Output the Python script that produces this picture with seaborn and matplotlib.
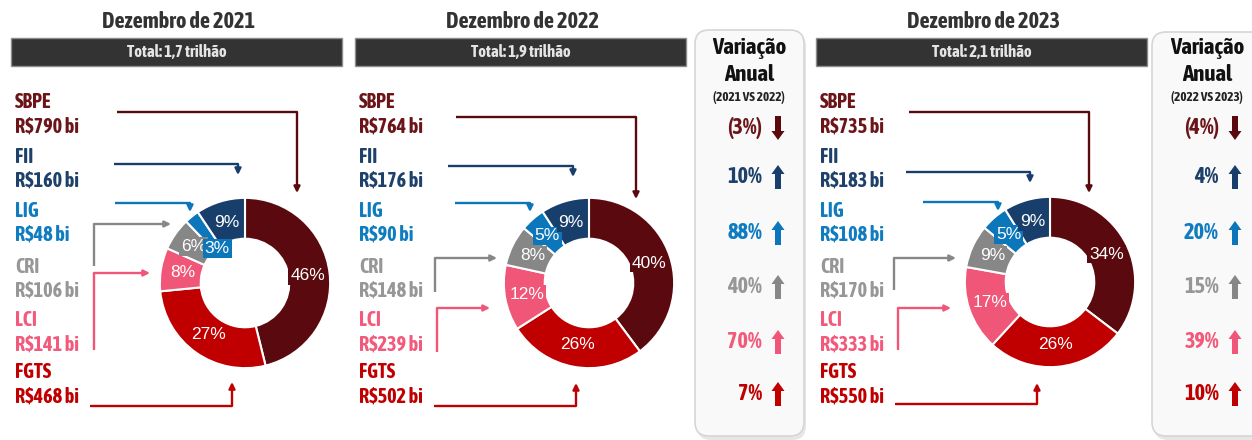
import numpy as np
import matplotlib
matplotlib.use("Agg")
import matplotlib.pyplot as plt
from matplotlib import font_manager as fm
from matplotlib.patches import Rectangle, FancyBboxPatch, FancyArrow
import seaborn as sns

# ---- data ----
categories = ["SBPE", "FII", "LIG", "CRI", "LCI", "FGTS"]
years = ["2021", "2022", "2023"]
totals = ["1,7", "1,9", "2,1"]

stock_2021 = [790, 160, 48, 106, 141, 468]   # R$ bi
stock_2022 = [764, 176, 90, 148, 239, 502]
stock_2023 = [735, 183, 108, 170, 333, 550]

share_2021 = [46, 9, 3, 6, 8, 27]            # % shown in the donut
share_2022 = [40, 9, 5, 8, 12, 26]
share_2023 = [34, 9, 5, 9, 17, 26]

var_2022 = [-3, 10, 88, 40, 70, 7]           # annual change, %
var_2023 = [-4, 4, 20, 15, 39, 10]
var_periods = ["2021 VS 2022", "2022 VS 2023"]

ring_order = ["SBPE", "FGTS", "LCI", "CRI", "LIG", "FII"]

# ---- style ----
sns.set_theme(style="white")


def _weight(f):
    w = f.weight
    return w if isinstance(w, int) else fm.weight_dict.get(w, 400)


def pick_narrow_font():
    # a condensed face that also comes in bold
    faces = fm.fontManager.ttflist
    for f in faces:
        if ("Narrow" in f.name or "Condensed" in f.name) and _weight(f) >= 600:
            return f.name, "normal", 1.0
    for f in faces:
        if f.stretch in ("condensed", "semi-condensed", "extra-condensed") and \
                _weight(f) >= 600:
            return f.name, f.stretch, 1.0
    return "Liberation Sans", "normal", 0.86


NARROW, STRETCH, FS = pick_narrow_font()
plt.rcParams["font.family"] = [NARROW, "Liberation Sans", "DejaVu Sans"]
plt.rcParams["font.stretch"] = STRETCH

wedge_colors = {"SBPE": "#5a0a0e", "FII": "#183f6b", "LIG": "#0b76b9",
                "CRI": "#878787", "LCI": "#ef5677", "FGTS": "#c00000"}
text_colors = {"SBPE": "#6b1519", "FII": "#1e416b", "LIG": "#0f7cc0",
               "CRI": "#979797", "LCI": "#f25a7c", "FGTS": "#c00000"}

W, H = 1252, 440
fig = plt.figure(figsize=(W / 100, H / 100), dpi=100)
bg = fig.add_axes([0, 0, 1, 1])
bg.set_xlim(0, W)
bg.set_ylim(H, 0)
bg.axis("off")

panel_dx = [0, 344, 805]
donut_cy = [283, 283, 282]
R = 86
name_y = [102, 157, 211, 267, 320, 372]
value_y = [126, 181, 235, 291, 344, 396]

connectors = [
    {"SBPE": [(117, 112), (297, 112), (297, 193)],
     "FII": [(114, 164), (238, 164), (238, 175)],
     "LIG": [(115, 203), (190, 203), (190, 212)],
     "CRI": [(94, 266), (94, 224), (171, 224)],
     "LCI": [(94, 350), (94, 273), (150, 273)],
     "FGTS": [(90, 406), (232, 406), (232, 382)]},
    {"SBPE": [(456, 117), (636, 117), (636, 199)],
     "FII": [(448, 166), (573, 166), (573, 177)],
     "LIG": [(455, 203), (530, 203), (530, 212)],
     "CRI": [(435, 292), (435, 258), (497, 258)],
     "LCI": [(437, 352), (437, 308), (490, 308)],
     "FGTS": [(434, 406), (576, 406), (576, 383)]},
    {"SBPE": [(909, 112), (1089, 112), (1089, 193)],
     "FII": [(906, 172), (1030, 172), (1030, 183)],
     "LIG": [(923, 202), (998, 202), (998, 211)],
     "CRI": [(894, 290), (894, 258), (956, 258)],
     "LCI": [(898, 350), (898, 308), (951, 308)],
     "FGTS": [(895, 404), (1037, 404), (1037, 383)]},
]

stocks = [stock_2021, stock_2022, stock_2023]
shares = [share_2021, share_2022, share_2023]

for i, year in enumerate(years):
    dx = panel_dx[i]
    bg.text(178 + dx, 22, f"Dezembro de {year}", ha="center", va="center",
            fontsize=16 * FS, fontweight="bold", color="#333333")
    bg.add_patch(Rectangle((11 + dx, 38), 331, 28, facecolor="#333333",
                           edgecolor="#8c8c8c", lw=1))
    bg.text(177 + dx, 52, f"Total: {totals[i]} trilhão", ha="center", va="center",
            fontsize=12 * FS, fontweight="bold", color="#e4e4e4")

    for k, cat in enumerate(categories):
        bg.text(15 + dx, name_y[k], cat, ha="left", va="center", fontsize=14.5 * FS,
                fontweight="bold", color=text_colors[cat])
        bg.text(15 + dx, value_y[k], f"R${stocks[i][k]} bi", ha="left", va="center",
                fontsize=14.5 * FS, fontweight="bold", color=text_colors[cat])
        pts = connectors[i][cat]
        xs, ys = zip(*pts)
        bg.plot(xs[:-1], ys[:-1], color=wedge_colors[cat], lw=1.7,
                solid_capstyle="butt")
        bg.annotate("", xy=pts[-1], xytext=pts[-2],
                    arrowprops=dict(arrowstyle="-|>", color=wedge_colors[cat], lw=1.7,
                                    mutation_scale=9, shrinkA=0, shrinkB=0))

    # donut
    cx, cy = 245 + dx, donut_cy[i]
    ax = fig.add_axes([(cx - R) / W, 1 - (cy + R) / H, 2 * R / W, 2 * R / H])
    ax.set_zorder(3)
    idx = [categories.index(c) for c in ring_order]
    vals = [stocks[i][j] for j in idx]
    labs = [f"{shares[i][j]}%" for j in idx]
    cols = [wedge_colors[c] for c in ring_order]
    wedges, texts = ax.pie(vals, colors=cols, startangle=90, counterclock=False,
                           radius=1, labels=labs, labeldistance=0.74,
                           wedgeprops=dict(width=0.48, edgecolor="white", linewidth=1.5))
    ax.set_xlim(-1.01, 1.01)
    ax.set_ylim(-1.01, 1.01)
    ax.set_aspect("equal")
    for w, t, c, j in zip(wedges, texts, ring_order, idx):
        t.set_ha("center")
        t.set_va("center")
        t.set_color("white")
        t.set_fontsize(12.5)
        t.set_fontfamily(["Liberation Sans", "DejaVu Sans"])
        t.set_fontstretch("normal")
        t.set_bbox(dict(boxstyle="square,pad=0.1", facecolor=wedge_colors[c],
                        edgecolor="none"))
        if shares[i][j] < 4:
            ang = np.deg2rad((w.theta1 + w.theta2) / 2)
            t.set_position((0.52 * np.cos(ang), 0.52 * np.sin(ang)))

# ---- annual change columns ----
var_boxes = [(695, 30, 109), (1152, 32, 120)]
var_vals = [var_2022, var_2023]
row_y = [128, 177, 233, 287, 342, 394]
for b, (x0, y0, w) in enumerate(var_boxes):
    bg.add_patch(FancyBboxPatch((x0 + 2, y0 + 2), w, 438 - y0,
                                boxstyle="round,pad=0,rounding_size=14",
                                facecolor="#dcdcdc", edgecolor="none", alpha=0.7))
    bg.add_patch(FancyBboxPatch((x0, y0), w, 436 - y0,
                                boxstyle="round,pad=0,rounding_size=14",
                                facecolor="#f9f9f9", edgecolor="#d6d6d6", lw=1.2))
    hx = x0 + 54 if b == 0 else x0 + 55
    bg.text(hx, 48, "Variação", ha="center", va="center", fontsize=16.5 * FS,
            fontweight="bold", color="#111111")
    bg.text(hx, 75, "Anual", ha="center", va="center", fontsize=16.5 * FS,
            fontweight="bold", color="#111111")
    bg.text(hx, 97, f"({var_periods[b]})", ha="center", va="center", fontsize=9.5 * FS,
            fontweight="bold", color="#222222")
    tx = x0 + 67
    ar_x = x0 + 83
    for k, cat in enumerate(categories):
        v = var_vals[b][k]
        s = f"({abs(v)}%)" if v < 0 else f"{v}%"
        bg.text(tx, row_y[k], s, ha="right", va="center", fontsize=16 * FS,
                fontweight="bold", color=text_colors[cat])
        if v < 0:
            arr = FancyArrow(ar_x, row_y[k] - 12, 0, 24, width=6, head_width=13,
                             head_length=9, length_includes_head=True,
                             color=wedge_colors[cat], lw=0)
        else:
            arr = FancyArrow(ar_x, row_y[k] + 12, 0, -24, width=6, head_width=13,
                             head_length=9, length_includes_head=True,
                             color=wedge_colors[cat], lw=0)
        bg.add_patch(arr)

fig.savefig("out.png", dpi=100, facecolor="white")
